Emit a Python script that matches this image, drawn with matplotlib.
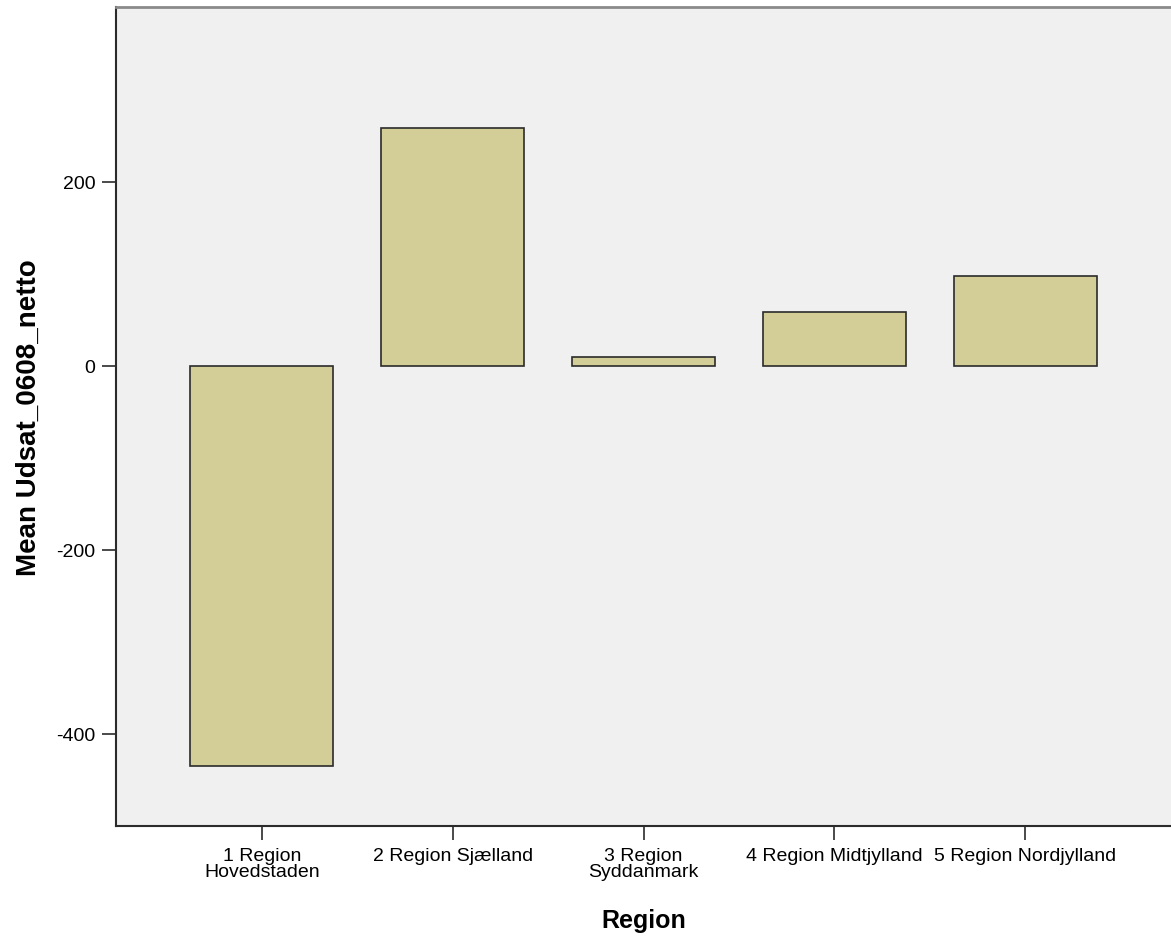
import numpy as np
import matplotlib
matplotlib.use("Agg")
import matplotlib.pyplot as plt

plt.rcParams['font.family'] = ['Liberation Sans', 'DejaVu Sans']

# Data
regions = ["1 Region\nHovedstaden", "2 Region Sjælland", "3 Region\nSyddanmark",
           "4 Region Midtjylland", "5 Region Nordjylland"]
means = [-435, 258.5, 10, 58.5, 97.5]
y_ticks = [-400, -200, 0, 200]

fig = plt.figure(figsize=(11.71, 9.37), dpi=100)
ax = fig.add_axes([116 / 1171, 1 - 827 / 937, 1 - 116 / 1171, (827 - 8) / 937])
ax.set_facecolor('#F0F0F0')

x = np.arange(len(regions))
ax.bar(x, means, width=0.75, color='#D3CE97', edgecolor='#2b2b2b', linewidth=1.2, zorder=3)

ax.set_xlim(-0.764, 4.764)
ax.set_ylim(-500, 390)
ax.set_xticks(x)
ax.set_xticklabels(regions, fontsize=14, linespacing=0.95)
ax.set_yticks(y_ticks)
ax.set_yticklabels([str(v) for v in y_ticks], fontsize=14)
ax.tick_params(length=10, width=1.2, color='#2b2b2b', pad=5)

ax.spines['right'].set_visible(False)
ax.spines['top'].set_color('#8a8a8a')
ax.spines['top'].set_linewidth(2)
for s in ['left', 'bottom']:
    ax.spines[s].set_color('#2b2b2b')
    ax.spines[s].set_linewidth(1.5)

ax.set_xlabel("Region", fontsize=18, fontweight='bold', labelpad=20)
ax.set_ylabel("Mean Udsat_0608_netto", fontsize=20, fontweight='bold', labelpad=10)

fig.savefig("out.png", dpi=100)
